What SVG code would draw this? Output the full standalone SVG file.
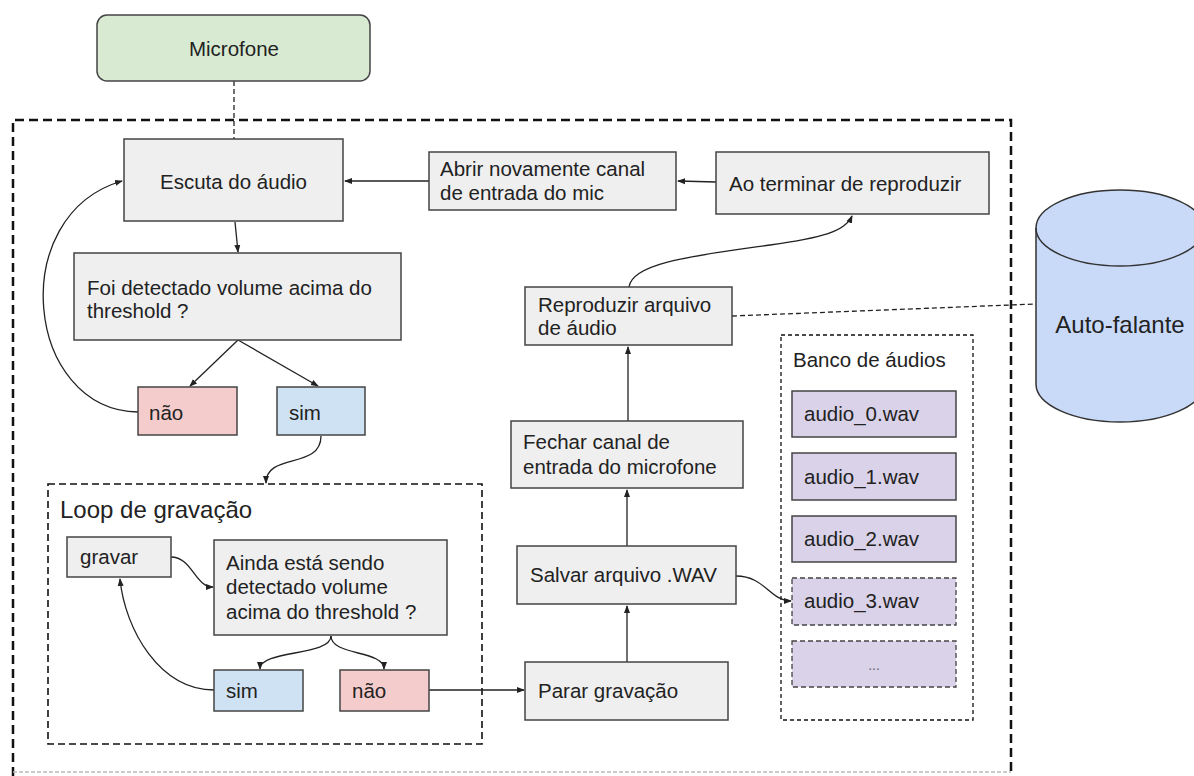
<svg xmlns="http://www.w3.org/2000/svg" width="1194" height="776" viewBox="0 0 1194 776">
<defs>
<marker id="ah" markerWidth="8" markerHeight="8" refX="7" refY="4" orient="auto" markerUnits="userSpaceOnUse">
<path d="M0,1 L8,4 L0,7 Z" fill="#222"/>
</marker>
<style>
text{font-family:"Liberation Sans",Arial,sans-serif;font-size:20.5px;fill:#222}
.box{fill:#efefef;stroke:#444;stroke-width:1.5}
.red{fill:#f4cccc;stroke:#444;stroke-width:1.5}
.blue{fill:#cfe2f3;stroke:#444;stroke-width:1.5}
.purple{fill:#d9d2e9;stroke:#444;stroke-width:1.5}
.purpled{fill:#d9d2e9;stroke:#444;stroke-width:1.3;stroke-dasharray:5 3}
.c{fill:none;stroke:#222;stroke-width:1.3}
.a{marker-end:url(#ah)}
.d{fill:none;stroke:#222;stroke-width:1.3;stroke-dasharray:5 3}
.mid{text-anchor:middle}
</style>
</defs>
<rect x="0" y="0" width="1194" height="776" fill="#ffffff"/>
<g id="outer">
<path d="M13,776 L13,120 L1011,120 L1011,772" fill="none" stroke="#111" stroke-width="2.5" stroke-dasharray="9 5"/>
<path d="M13,772 L1011,772" fill="none" stroke="#bbb" stroke-width="1.5" stroke-dasharray="4 2"/>
</g>
<g id="loop-group">
<rect x="48" y="484" width="434" height="260" fill="none" stroke="#111" stroke-width="1.6" stroke-dasharray="7 4"/>
<text x="60" y="518" style="font-size:24px">Loop de gravação</text>
</g>
<g id="banco-group">
<rect x="781" y="335" width="192" height="385" fill="none" stroke="#111" stroke-width="1.3" stroke-dasharray="4 3"/>
<text x="793" y="367">Banco de áudios</text>
</g>
<g id="connectors">
<path class="d" d="M234,81 L234,139"/>
<path class="d" d="M732,316 L1036,304"/>
<path class="c a" d="M235,222 L238,252"/>
<path class="c a" d="M238,340 L190,386"/>
<path class="c a" d="M238,340 L318,386"/>
<path class="c a" d="M138,412 C25,410 5,215 122,181"/>
<path class="c a" d="M429,181 L345,181"/>
<path class="c a" d="M716,182 L678,181"/>
<path class="c a" d="M629,287 C632,262 700,255 770,245 C820,238 845,232 852,216"/>
<path class="c a" d="M628,421 L628,347"/>
<path class="c a" d="M627,546 L627,490"/>
<path class="c a" d="M627,662 L627,606"/>
<path class="c a" d="M736,576 C765,576 770,601 791,601"/>
<path class="c a" d="M321,436 C321,470 266,452 266,483"/>
<path class="c a" d="M171,557 C192,557 195,587 213,587"/>
<path class="c a" d="M214,690 C160,690 125,630 120,579"/>
<path class="c a" d="M331,636 C331,656 260,650 260,669"/>
<path class="c a" d="M331,636 C331,656 384,650 384,669"/>
<path class="c a" d="M429,690 L524,690"/>
</g>
<g id="microfone">
<rect x="97" y="15" width="273" height="66" rx="10" fill="#d9ead3" stroke="#444" stroke-width="1.5"/>
<text class="mid" x="234" y="56">Microfone</text>
</g>
<g id="escuta">
<rect class="box" x="124" y="139" width="219" height="82"/>
<text class="mid" x="233.5" y="189">Escuta do áudio</text>
</g>
<g id="foi-detectado">
<rect class="box" x="74" y="253" width="327" height="87"/>
<text x="87" y="295">Foi detectado volume acima do</text>
<text x="87" y="318">threshold ?</text>
</g>
<g id="nao1">
<rect class="red" x="138" y="387" width="99" height="48"/>
<text x="149" y="420">não</text>
</g>
<g id="sim1">
<rect class="blue" x="277" y="387" width="88" height="48"/>
<text x="289" y="420">sim</text>
</g>
<g id="abrir">
<rect class="box" x="429" y="152" width="247" height="58"/>
<text x="440" y="176">Abrir novamente canal</text>
<text x="440" y="200">de entrada do mic</text>
</g>
<g id="ao-terminar">
<rect class="box" x="716" y="152" width="273" height="62"/>
<text x="729" y="191">Ao terminar de reproduzir</text>
</g>
<g id="reproduzir">
<rect class="box" x="525" y="287" width="207" height="58"/>
<text x="538" y="312">Reproduzir arquivo</text>
<text x="538" y="335">de áudio</text>
</g>
<g id="fechar">
<rect class="box" x="511" y="421" width="232" height="67"/>
<text x="523" y="449">Fechar canal de</text>
<text x="523" y="474">entrada do microfone</text>
</g>
<g id="salvar">
<rect class="box" x="517" y="546" width="219" height="58"/>
<text x="530" y="582">Salvar arquivo .WAV</text>
</g>
<g id="parar">
<rect class="box" x="525" y="662" width="203" height="58"/>
<text x="538" y="698">Parar gravação</text>
</g>
<g id="gravar">
<rect class="box" x="67" y="537" width="104" height="40"/>
<text x="80" y="564">gravar</text>
</g>
<g id="ainda">
<rect class="box" x="214" y="540" width="233" height="95"/>
<text x="226" y="570">Ainda está sendo</text>
<text x="226" y="594">detectado volume</text>
<text x="226" y="619">acima do threshold ?</text>
</g>
<g id="sim2">
<rect class="blue" x="214" y="670" width="89" height="41"/>
<text x="226" y="698">sim</text>
</g>
<g id="nao2">
<rect class="red" x="340" y="670" width="89" height="41"/>
<text x="352" y="698">não</text>
</g>
<g id="audio0">
<rect class="purple" x="792" y="391" width="164" height="46"/>
<text x="804" y="421">audio_0.wav</text>
</g>
<g id="audio1">
<rect class="purple" x="792" y="453" width="164" height="47"/>
<text x="804" y="484">audio_1.wav</text>
</g>
<g id="audio2">
<rect class="purple" x="792" y="516" width="164" height="46"/>
<text x="804" y="546">audio_2.wav</text>
</g>
<g id="audio3">
<rect class="purpled" x="792" y="578" width="164" height="47"/>
<text x="804" y="608">audio_3.wav</text>
</g>
<g id="audio-more">
<rect class="purpled" x="792" y="641" width="164" height="46"/>
<text class="mid" x="874" y="670" style="font-size:14px;fill:#666">...</text>
</g>
<g id="auto-falante">
<path d="M1036,228 L1036,384 A84,38 0 0 0 1204,384 L1204,228 A84,38 0 0 0 1036,228 Z" fill="#c9daf8" stroke="#333" stroke-width="1.5"/>
<path d="M1036,228 A84,38 0 0 0 1204,228" fill="none" stroke="#333" stroke-width="1.5"/>
<text class="mid" x="1120" y="333" style="font-size:24px">Auto-falante</text>
</g>
</svg>
